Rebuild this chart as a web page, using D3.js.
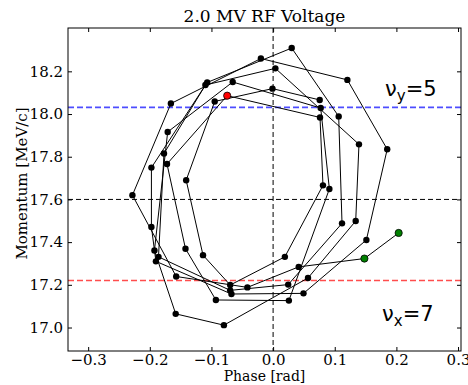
<!DOCTYPE html>
<html><head><meta charset="utf-8">
<script src="https://cdn.jsdelivr.net/npm/d3@7"></script>
<style>body{margin:0;background:#fff}svg{display:block}</style>
</head><body><svg id="c" width="468" height="385"></svg>
<script>
// trajectory in longitudinal phase space (turn by turn)
const phase = [0.2037,0.1481,0.0415,-0.0417,-0.1572,-0.2282,-0.1658,-0.0198,0.1205,0.1851,
  0.1513,0.0493,-0.0676,-0.1901,-0.1974,-0.1974,-0.1069,0.0302,0.1064,0.1118,
  0.0245,-0.0696,-0.1859,-0.1770,-0.1098,0.0037,0.1393,0.1340,0.0566,-0.0798,
  -0.1580,-0.1925,-0.1710,-0.0655,0.0772,0.0913,0.0256,-0.0928,-0.1421,-0.1721,
  -0.0745,0.0761,0.0809,0.0191,-0.0696,-0.1137,-0.1410,-0.0947,-0.0010,0.0756];
const momentum = [17.443,17.323,17.284,17.188,17.239,17.620,18.049,18.260,18.160,17.835,
  17.410,17.160,17.157,17.310,17.471,17.749,18.148,18.309,17.989,17.488,
  17.201,17.174,17.331,17.815,18.136,18.214,17.858,17.499,17.232,17.011,
  17.064,17.361,17.916,18.150,18.028,17.649,17.126,17.129,17.369,17.766,
  18.086,17.984,17.666,17.331,17.199,17.339,17.690,18.059,18.119,18.066];
const greenIdx = [0, 1];
const redIdx = [40];
const xTicks = [-0.3, -0.2, -0.1, 0.0, 0.1, 0.2, 0.3];
const yTicks = [17.0, 17.2, 17.4, 17.6, 17.8, 18.0, 18.2];
const xDomain = [-0.3327, 0.3048];
const yDomain = [16.89, 18.403];
const nuYLevel = 18.031;   // nu_y = 5 line
const nuXLevel = 17.220;   // nu_x = 7 line
const centerP = 17.6;
const centerPhase = 0.0;
const title = "2.0 MV RF Voltage";
const xLabel = "Phase [rad]";
const yLabel = "Momentum [MeV/c]";

const L = 68, R = 461, T = 28, B = 351;
const svg = d3.select("#c");
const x = d3.scaleLinear().domain(xDomain).range([L, R]);
const y = d3.scaleLinear().domain(yDomain).range([B, T]);
const serif = "DejaVu Serif";

const plot = svg.append("g");
plot.append("line").attr("x1", L).attr("x2", R).attr("y1", y(centerP)).attr("y2", y(centerP))
  .attr("stroke", "#000").attr("stroke-width", 1).attr("stroke-dasharray", "5,3");
plot.append("line").attr("x1", x(centerPhase)).attr("x2", x(centerPhase)).attr("y1", T).attr("y2", B)
  .attr("stroke", "#000").attr("stroke-width", 1).attr("stroke-dasharray", "5,3");
plot.append("line").attr("x1", L).attr("x2", R).attr("y1", y(nuYLevel)).attr("y2", y(nuYLevel))
  .attr("stroke", "#4d4dff").attr("stroke-width", 1.6).attr("stroke-dasharray", "6,3");
plot.append("line").attr("x1", L).attr("x2", R).attr("y1", y(nuXLevel)).attr("y2", y(nuXLevel))
  .attr("stroke", "#ff4d4d").attr("stroke-width", 1.6).attr("stroke-dasharray", "6,3");

const pts = phase.map((p, i) => ({ph: p, m: momentum[i], i}));
plot.append("path").datum(pts)
  .attr("d", d3.line().x(d => x(d.ph)).y(d => y(d.m)))
  .attr("fill", "none").attr("stroke", "#000").attr("stroke-width", 1);
plot.selectAll("circle.b").data(pts.filter(d => !greenIdx.includes(d.i) && !redIdx.includes(d.i)))
  .join("circle").attr("cx", d => x(d.ph)).attr("cy", d => y(d.m)).attr("r", 3.2).attr("fill", "#000");
plot.selectAll("circle.g").data(pts.filter(d => greenIdx.includes(d.i)))
  .join("circle").attr("cx", d => x(d.ph)).attr("cy", d => y(d.m)).attr("r", 3.6)
  .attr("fill", "#008000").attr("stroke", "#000").attr("stroke-width", 0.8);
plot.selectAll("circle.r").data(pts.filter(d => redIdx.includes(d.i)))
  .join("circle").attr("cx", d => x(d.ph)).attr("cy", d => y(d.m)).attr("r", 3.6)
  .attr("fill", "#ff0000").attr("stroke", "#000").attr("stroke-width", 0.8);

const fmt = d3.format(".1f");
const gx = svg.append("g").attr("transform", `translate(0,${B})`)
  .call(d3.axisBottom(x).tickValues(xTicks).tickFormat(fmt).tickSize(-4).tickPadding(3));
const gxt = svg.append("g").attr("transform", `translate(0,${T})`)
  .call(d3.axisTop(x).tickValues(xTicks).tickFormat("").tickSize(-4));
const gy = svg.append("g").attr("transform", `translate(${L},0)`)
  .call(d3.axisLeft(y).tickValues(yTicks).tickFormat(fmt).tickSize(-4).tickPadding(5));
const gyr = svg.append("g").attr("transform", `translate(${R},0)`)
  .call(d3.axisRight(y).tickValues(yTicks).tickFormat("").tickSize(-4));
[gx, gxt, gy, gyr].forEach(g => {
  g.select(".domain").remove();
  g.selectAll(".tick line").attr("stroke", "#000").attr("stroke-width", 1);
  g.selectAll("text").attr("font-family", serif).attr("font-size", 15).attr("fill", "#000");
});
svg.append("rect").attr("x", L).attr("y", T).attr("width", R - L).attr("height", B - T)
  .attr("fill", "none").attr("stroke", "#000").attr("stroke-width", 1);

svg.append("text").attr("x", (L + R) / 2).attr("y", 22).attr("text-anchor", "middle")
  .attr("font-family", serif).attr("font-size", 17).text(title);
svg.append("text").attr("x", (L + R) / 2).attr("y", 381).attr("text-anchor", "middle")
  .attr("font-family", serif).attr("font-size", 14).text(xLabel);
svg.append("text").attr("transform", `translate(27,${(T + B) / 2 - 6}) rotate(-90)`).attr("text-anchor", "middle")
  .attr("font-family", serif).attr("font-size", 15).text(yLabel);

function nuLabel(xp, yp, sub, val) {
  const t = svg.append("text").attr("x", xp).attr("y", yp)
    .attr("font-family", "DejaVu Sans").attr("font-size", 21).attr("fill", "#000");
  t.append("tspan").text("ν");
  t.append("tspan").attr("font-size", 15).attr("dy", 5).text(sub);
  t.append("tspan").attr("dy", -5).text("=" + val);
}
nuLabel(385, 96, "y", "5");
nuLabel(382, 321, "x", "7");
</script></body></html>
